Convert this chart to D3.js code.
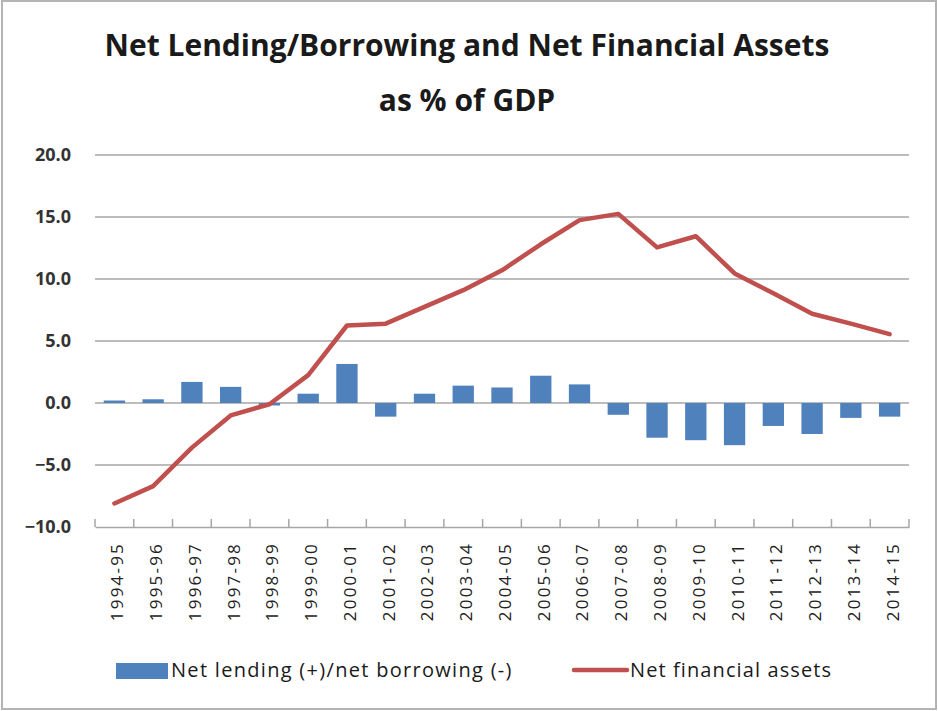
<!DOCTYPE html>
<html>
<head>
<meta charset="utf-8">
<script src="https://cdn.jsdelivr.net/npm/d3@7"></script>
<style>
  body { margin: 0; background: #fff; }
  svg text { font-family: 'Open Sans', sans-serif; }
</style>
</head>
<body>
<div id="chart"></div>
<script>
// chart values
var years = ['1994-95', '1995-96', '1996-97', '1997-98', '1998-99', '1999-00', '2000-01',
  '2001-02', '2002-03', '2003-04', '2004-05', '2005-06', '2006-07', '2007-08', '2008-09',
  '2009-10', '2010-11', '2011-12', '2012-13', '2013-14', '2014-15']
var netLending = [0.2, 0.3, 1.7, 1.3, -0.2, 0.75, 3.15, -1.1, 0.75, 1.4, 1.25, 2.2, 1.5,
  -0.95, -2.8, -3.0, -3.4, -1.85, -2.5, -1.2, -1.1]
var netAssets = [-8.1, -6.7, -3.6, -1.0, -0.1, 2.25, 6.25, 6.4, 7.75, 9.1, 10.7, 12.8, 14.75,
  15.25, 12.55, 13.45, 10.45, 8.85, 7.2, 6.4, 5.55]
var yTicks = [-10, -5, 0, 5, 10, 15, 20]
var seriesNames = ['Net lending (+)/net borrowing (-)', 'Net financial assets']

;(function () {
  var W = 938
  var H = 711
  var margin = { top: 155, right: 29, bottom: 184, left: 95 }
  var width = W - margin.left - margin.right
  var height = H - margin.top - margin.bottom

  var root = d3.select('#chart')
    .append('svg')
    .attr('width', W)
    .attr('height', H)

  // frame around the whole picture
  root.append('rect')
    .attr('x', 2).attr('y', 1)
    .attr('width', W - 4).attr('height', H - 3)
    .attr('fill', '#fff')
    .attr('stroke', '#b4b4b4')
    .attr('stroke-width', 2)

  // title
  root.append('text')
    .attr('x', 467).attr('y', 56)
    .attr('text-anchor', 'middle')
    .attr('font-size', 30)
    .attr('font-weight', 'bold')
    .attr('fill', '#1a1a1a')
    .text('Net Lending/Borrowing and Net Financial Assets')
  root.append('text')
    .attr('x', 467).attr('y', 111)
    .attr('text-anchor', 'middle')
    .attr('font-size', 30)
    .attr('font-weight', 'bold')
    .attr('fill', '#1a1a1a')
    .text('as % of GDP')

  var svg = root.append('g')
    .attr('transform', 'translate(' + margin.left + ',' + margin.top + ')')

  var xScale = d3.scaleBand()
    .domain(years)
    .range([0, width])
    .paddingInner(0.45)
    .paddingOuter(0.225)

  var yScale = d3.scaleLinear()
    .domain([-10, 20])
    .range([height, 0])

  // gridlines
  svg.selectAll('.grid')
    .data(yTicks.filter(d => d !== -10))
    .enter().append('line')
    .attr('class', 'grid')
    .attr('x1', 0).attr('x2', width)
    .attr('y1', d => yScale(d)).attr('y2', d => yScale(d))
    .attr('stroke', '#a6a6a6')
    .attr('stroke-width', 1.5)

  // y axis labels
  svg.selectAll('.ylab')
    .data(yTicks)
    .enter().append('text')
    .attr('class', 'ylab')
    .attr('x', -24)
    .attr('y', d => yScale(d))
    .attr('dy', '0.35em')
    .attr('text-anchor', 'end')
    .attr('font-size', 18)
    .attr('font-weight', 'bold')
    .attr('fill', '#333')
    .text(d => d3.format('.1f')(d))

  // bars
  svg.selectAll('.bar')
    .data(netLending)
    .enter().append('rect')
    .attr('class', 'bar')
    .attr('x', (d, i) => xScale(years[i]))
    .attr('width', xScale.bandwidth())
    .attr('y', d => yScale(Math.max(0, d)))
    .attr('height', d => Math.abs(yScale(d) - yScale(0)))
    .attr('fill', '#4f81bd')

  // x axis at the bottom
  var xAxis = d3.axisBottom(xScale).tickSize(0).tickFormat('')
  var gx = svg.append('g')
    .attr('class', 'axis x-axis')
    .attr('transform', 'translate(0,' + height + ')')
    .call(xAxis)
  gx.select('.domain').attr('stroke', '#a6a6a6').attr('stroke-width', 1.5)

  var step = xScale.step()
  svg.selectAll('.xtick')
    .data(d3.range(years.length + 1))
    .enter().append('line')
    .attr('class', 'xtick')
    .attr('x1', i => i * step).attr('x2', i => i * step)
    .attr('y1', height - 8).attr('y2', height)
    .attr('stroke', '#a6a6a6')
    .attr('stroke-width', 1.5)

  svg.selectAll('.xlab')
    .data(years)
    .enter().append('text')
    .attr('class', 'xlab')
    .attr('transform', d => 'translate(' + (xScale(d) + xScale.bandwidth() / 2 + 3) + ',' + (height + 15) + ') rotate(-90)')
    .attr('text-anchor', 'end')
    .attr('dy', '0.35em')
    .attr('font-size', 17)
    .attr('letter-spacing', 2.2)
    .attr('fill', '#222')
    .text(d => d)

  // line
  var line = d3.line()
    .x((d, i) => xScale(years[i]) + xScale.bandwidth() / 2)
    .y(d => yScale(d))

  svg.append('path')
    .datum(netAssets)
    .attr('d', line)
    .attr('fill', 'none')
    .attr('stroke', '#c0504d')
    .attr('stroke-width', 4.5)
    .attr('stroke-linejoin', 'round')
    .attr('stroke-linecap', 'round')

  // legend
  var lg = root.append('g').attr('transform', 'translate(0,671)')
  lg.append('rect')
    .attr('x', 116).attr('y', -8)
    .attr('width', 52).attr('height', 16)
    .attr('fill', '#4f81bd')
  lg.append('text')
    .attr('x', 171).attr('y', 6)
    .attr('font-size', 20)
    .attr('letter-spacing', 1.3)
    .attr('fill', '#1a1a1a')
    .text(seriesNames[0])
  lg.append('line')
    .attr('x1', 574).attr('x2', 627)
    .attr('y1', -1).attr('y2', -1)
    .attr('stroke', '#c0504d')
    .attr('stroke-width', 4.5)
    .attr('stroke-linecap', 'round')
  lg.append('text')
    .attr('x', 630).attr('y', 6)
    .attr('font-size', 20)
    .attr('letter-spacing', 1.1)
    .attr('fill', '#1a1a1a')
    .text(seriesNames[1])
})()
</script>
</body>
</html>
